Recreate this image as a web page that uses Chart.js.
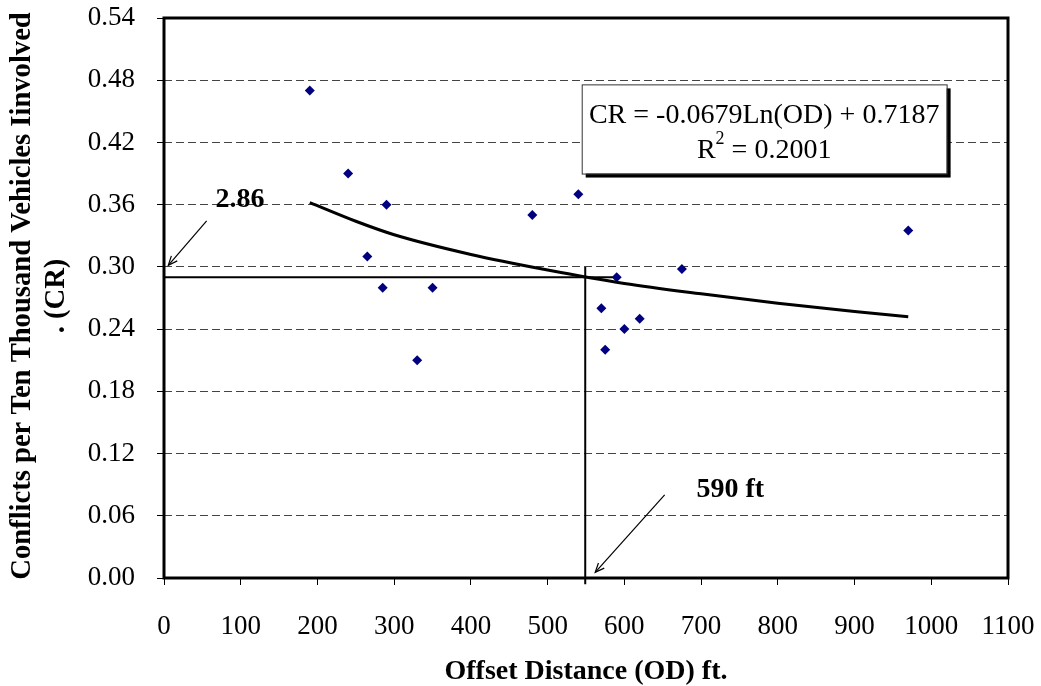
<!DOCTYPE html>
<html>
<head>
<meta charset="utf-8">
<script src="https://cdn.jsdelivr.net/npm/chart.js@4/dist/chart.umd.min.js"></script>
<style>
  body { margin: 0; background: #fff; }
  #wrap { width: 1041px; height: 686px; }
</style>
</head>
<body>
<div id="wrap"><canvas id="chart" width="1041" height="686"></canvas></div>
<script>
const SERIF = '"Liberation Serif", "Times New Roman", serif';

// observed points
const odValues = [190, 240, 265, 285, 290, 330, 350, 480, 540, 570, 575, 590, 600, 620, 675, 970];
const crValues = [0.47, 0.39, 0.31, 0.28, 0.36, 0.21, 0.28, 0.35, 0.37, 0.26, 0.22, 0.29, 0.24, 0.25, 0.298, 0.335];

// log trend line
const trendOD = [190, 250, 300, 400, 500, 600, 700, 800, 900, 970];
const trendCR = [0.362, 0.344, 0.331, 0.312, 0.297, 0.284, 0.274, 0.265, 0.257, 0.252];

// reference lines
const refHorizX = [0, 585];
const refHorizY = [0.29, 0.29];
const refVertX = [549, 549];
const refVertY = [-0.006, 0.30];

const xTicks = [0, 100, 200, 300, 400, 500, 600, 700, 800, 900, 1000, 1100];
const yTicks = [0, 0.06, 0.12, 0.18, 0.24, 0.30, 0.36, 0.42, 0.48, 0.54];

const pts = (xs, ys) => xs.map((x, i) => ({ x: x, y: ys[i] }));

function arrow(ctx, x1, y1, x2, y2) {
  const a = Math.atan2(y2 - y1, x2 - x1);
  const h = 10;
  ctx.beginPath();
  ctx.moveTo(x1, y1);
  ctx.lineTo(x2, y2);
  ctx.stroke();
  ctx.beginPath();
  ctx.moveTo(x2 - h * Math.cos(a - 0.4), y2 - h * Math.sin(a - 0.4));
  ctx.lineTo(x2, y2);
  ctx.lineTo(x2 - h * Math.cos(a + 0.4), y2 - h * Math.sin(a + 0.4));
  ctx.stroke();
}

const extras = {
  id: 'extras',
  afterDraw(chart) {
    const ctx = chart.ctx;
    const xs = chart.scales.x, ys = chart.scales.y;
    const X = v => xs.getPixelForValue(v), Y = v => ys.getPixelForValue(v);
    const a = chart.chartArea;
    ctx.save();

    // plot frame
    ctx.strokeStyle = '#000';
    ctx.lineWidth = 3;
    ctx.strokeRect(a.left, a.top, a.right - a.left, a.bottom - a.top);

    // equation box
    const bx1 = X(544.4), bx2 = X(1020), by1 = Y(0.476), by2 = Y(0.390);
    ctx.fillStyle = '#000';
    ctx.fillRect(bx1 + 4, by1 + 4, bx2 - bx1, by2 - by1);
    ctx.fillStyle = '#fff';
    ctx.fillRect(bx1, by1, bx2 - bx1, by2 - by1);
    ctx.lineWidth = 1;
    ctx.strokeStyle = '#333';
    ctx.strokeRect(bx1 + 0.5, by1 + 0.5, bx2 - bx1, by2 - by1);
    ctx.fillStyle = '#000';
    ctx.textAlign = 'center';
    ctx.textBaseline = 'middle';
    ctx.font = '28px ' + SERIF;
    const cx = (bx1 + bx2) / 2;
    ctx.fillText('CR = -0.0679Ln(OD) + 0.7187', cx, Y(0.4461));
    // R^2 line
    const r1 = 'R', r2 = ' = 0.2001';
    const w1 = ctx.measureText(r1).width, w2 = ctx.measureText(r2).width;
    ctx.font = '18px ' + SERIF;
    const ws = ctx.measureText('2').width;
    const start = cx - (w1 + ws + w2) / 2;
    ctx.textAlign = 'left';
    ctx.font = '28px ' + SERIF;
    ctx.fillText(r1, start, Y(0.4124));
    ctx.fillText(r2, start + w1 + ws, Y(0.4124));
    ctx.font = '18px ' + SERIF;
    ctx.fillText('2', start + w1, Y(0.4124) - 11);

    // annotations
    ctx.textAlign = 'center';
    ctx.font = 'bold 28px ' + SERIF;
    ctx.fillText('2.86', X(99), Y(0.3643));
    ctx.fillText('590 ft', X(738), Y(0.085));
    ctx.lineWidth = 1.2;
    ctx.strokeStyle = '#000';
    arrow(ctx, X(55.6), Y(0.3444), X(5.6), Y(0.3015));
    arrow(ctx, X(652.5), Y(0.0802), X(562), Y(0.0054));

    // axis titles
    ctx.font = 'bold 28px ' + SERIF;
    ctx.fillText('Offset Distance (OD) ft.', (a.left + a.right) / 2, 672);
    ctx.translate(23, 296);
    ctx.rotate(-Math.PI / 2);
    ctx.font = 'bold 28.6px ' + SERIF;
    ctx.fillText('Conflicts per Ten Thousand Vehicles Iinvolved', 0, 0);
    ctx.fillText('. (CR)', 0, 34);
    ctx.restore();
  }
};

new Chart(document.getElementById('chart'), {
  type: 'scatter',
  data: {
    datasets: [
      {
        label: 'Trend',
        type: 'line',
        data: pts(trendOD, trendCR),
        borderColor: '#000',
        borderWidth: 3,
        pointRadius: 0,
        cubicInterpolationMode: 'monotone',
        fill: false
      },
      {
        label: 'Ref H',
        type: 'line',
        data: pts(refHorizX, refHorizY),
        borderColor: '#000',
        borderWidth: 2,
        pointRadius: 0,
        fill: false
      },
      {
        label: 'Ref V',
        type: 'line',
        data: pts(refVertX, refVertY),
        borderColor: '#000',
        borderWidth: 2,
        pointRadius: 0,
        fill: false,
        clip: false
      },
      {
        label: 'CR',
        data: pts(odValues, crValues),
        pointStyle: 'rectRot',
        pointRadius: 5,
        backgroundColor: '#000080',
        borderColor: '#000080',
        borderWidth: 0
      }
    ]
  },
  options: {
    responsive: false,
    animation: false,
    layout: { padding: { top: 18, right: 33, left: 0, bottom: 0 } },
    plugins: { legend: { display: false }, tooltip: { enabled: false } },
    scales: {
      x: {
        type: 'linear',
        min: 0,
        max: 1100,
        afterBuildTicks: s => { s.ticks = xTicks.map(v => ({ value: v })); },
        afterFit: s => { s.height = 108; s.paddingLeft = 0; s.paddingRight = 0; },
        ticks: {
          color: '#000',
          font: { family: SERIF, size: 27 },
          padding: 26,
          maxRotation: 0,
          autoSkip: false,
          callback: v => String(v)
        },
        grid: { drawOnChartArea: false, drawTicks: true, tickLength: 7, color: '#000' },
        border: { display: false }
      },
      y: {
        min: 0,
        max: 0.54,
        afterBuildTicks: s => { s.ticks = yTicks.map(v => ({ value: v })); },
        afterFit: s => { s.width = 164; s.paddingTop = 0; s.paddingBottom = 0; },
        ticks: {
          color: '#000',
          font: { family: SERIF, size: 27 },
          padding: 22,
          autoSkip: false,
          callback: v => Number(v).toFixed(2)
        },
        grid: { color: '#444', lineWidth: 1, tickLength: 7, tickColor: '#000', tickBorderDash: [] },
        border: { display: false, dash: [8, 4] }
      }
    }
  },
  plugins: [extras]
});
</script>
</body>
</html>
